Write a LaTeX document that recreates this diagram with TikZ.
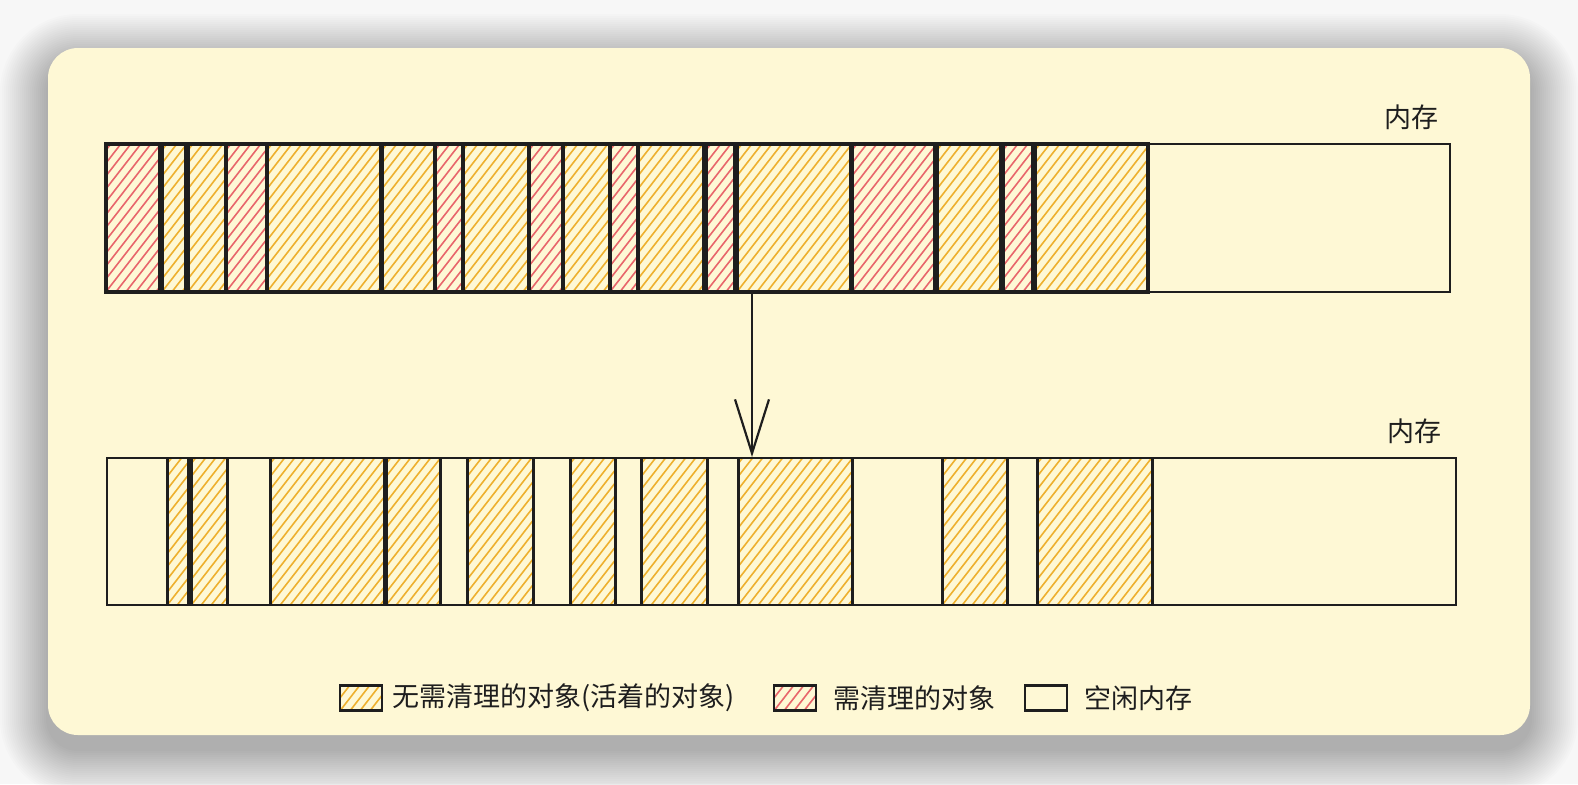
\documentclass[tikz,border=0pt]{standalone}
\usepackage{fontspec}
\setmainfont{Noto Sans CJK SC}
\usetikzlibrary{positioning,arrows.meta}
\definecolor{cardbg}{HTML}{FEF8D5}
\definecolor{hatchyel}{HTML}{EEB02E}
\definecolor{hatchred}{HTML}{E8666B}
\definecolor{ink}{HTML}{1E1E1E}
\tikzset{
  hatched/.style={path picture={
    \foreach \s in {0,10,...,280}
      \draw[#1, line width=0.8pt] ([xshift=\s*0.5pt-60pt]path picture bounding box.south west) -- ++(115,-148);}},
  seg/.style={draw=ink, line width=1.8pt, minimum height=74pt, inner sep=0pt, anchor=west},
  liveobj/.style={seg, hatched=hatchyel},
  deadobj/.style={seg, hatched=hatchred},
  membar/.style={draw=ink, line width=1pt, minimum height=74pt, inner sep=0pt, anchor=west},
  lbl/.style={inner sep=0pt, text=ink, font=\fontsize{13.5}{16}\selectfont},
  keybox/.style={minimum width=21pt, minimum height=12.5pt, line width=1.2pt, anchor=west}
}
\begin{document}
\begin{tikzpicture}[x=0.5pt, y=-0.5pt]
  \useasboundingbox (0,0) rectangle (1578,784);
  \fill[white!97!black] (0,0) rectangle (1578,784);
  \foreach \i in {1,...,24} {
    \pgfmathsetmacro\rr{15+\i}
    \fill[black, opacity=0.011, rounded corners=\rr pt] (48-2*\i,62-2*\i) rectangle (1530+2*\i,749+2*\i);
  }
  \fill[cardbg, rounded corners=15pt] (48,48) rectangle (1530,735);

  \node[membar, minimum width=672.5pt] (mem1) at (104,218) {};
  \foreach \a/\b/\t [count=\i] in {104/158/deadobj, 160/184/liveobj, 186/224/liveobj, 224/265/deadobj,
      265/379/liveobj, 380/433/liveobj, 433/461/deadobj, 461/527/liveobj, 527/561/deadobj,
      561/608/liveobj, 608/636/deadobj, 636/702/liveobj, 704/733/deadobj, 735/849/liveobj,
      850/933/deadobj, 935/999/liveobj, 1001/1031/deadobj, 1033/1146/liveobj}
    \node[\t, minimum width={(\b-\a)*0.5pt}] (t\i) at (\a,218) {};
  \node[lbl, anchor=east] (lab1) at (1439,117) {内存};

  \node[membar, minimum width=674.5pt, minimum height=73.5pt] (mem2) at (106,531.5) {};
  \foreach \a/\b [count=\i] in {166/187, 190/226, 269/383, 385/439, 466/532, 569/614,
      640/706, 737/851, 941/1006, 1036/1151}
    \node[liveobj, line width=1.3pt, minimum height=73.5pt, minimum width={(\b-\a)*0.5pt}] (b\i) at (\a,531.5) {};
  \node[lbl, anchor=east] (lab2) at (1442,431) {内存};

  \coordinate (a1) at (752,292);
  \coordinate (a2) at (752,457);
  \draw[ink, line width=1.1pt, -{Straight Barb[length=27pt,width=17pt]}] (a1) -- (a2);

  \node[liveobj, keybox] (k1) at (339,698) {};
  \node[lbl, right=4.5pt of k1] (kt1) {无需清理的对象(活着的对象)};
  \node[deadobj, keybox] (k2) at (773,698) {};
  \node[lbl, right=8pt of k2] (kt2) {需清理的对象};
  \node[draw=ink, keybox] (k3) at (1024,698) {};
  \node[lbl, right=8pt of k3] (kt3) {空闲内存};
\end{tikzpicture}
\end{document}
